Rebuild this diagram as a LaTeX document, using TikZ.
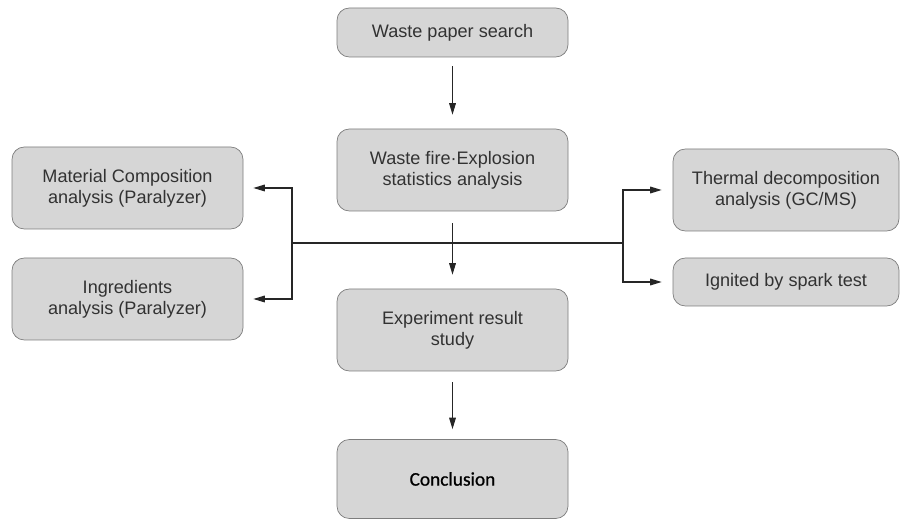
\documentclass[tikz,border=0pt]{standalone}
\usepackage{fontspec}
\setmainfont{Liberation Sans}
\newfontfamily\conclfont[FakeBold=0.8]{Carlito}
\usepackage{xcolor}
\usetikzlibrary{arrows.meta, positioning}

\definecolor{boxfill}{RGB}{214,214,214}
\definecolor{boxline}{RGB}{125,125,125}
\definecolor{boxtext}{RGB}{50,50,50}

\begin{document}
\begin{tikzpicture}[
            font=\fontsize{10.3}{12}\selectfont,
            >={Triangle[length=6.5pt,width=3.8pt]},
            stage/.style  ={draw=boxline, fill=boxfill, rounded corners=7pt, align=center,
                    text=boxtext, inner sep=2pt, minimum width=4.62cm, minimum height=1.64cm},
            flow/.style   ={->, line width=0.6pt, draw=black!85},
            link/.style   ={line width=0.6pt, draw=black!85},
            x=1cm, y=1cm
        ]

        % page frame, same proportions as the original figure
        \useasboundingbox (0,0) rectangle (18.04,-10.4);

        %% --- main column ---
        \node[stage, minimum height=0.98cm] (paper) at (9.05,-0.65) {Waste paper search};
        \node[stage] (stats) at (9.05,-3.4)  {Waste fire·Explosion\\statistics analysis};
        \node[stage] (exper) at (9.05,-6.6)  {Experiment result\\study};
        \node[stage, minimum height=1.58cm, text=black,
              font=\conclfont\fontsize{11}{13}\selectfont] (concl) at (9.05,-9.58) {Conclusion};

        %% --- side analyses (left / right) ---
        \node[stage] (matcomp) at (2.55,-3.76) {Material Composition\\analysis (Paralyzer)};
        \node[stage] (ingred)  at (2.55,-5.98) {Ingredients\\analysis (Paralyzer)};
        \node[stage, minimum width=4.52cm] (thermal) at (15.72,-3.8) {Thermal decomposition\\analysis (GC/MS)};
        \node[stage, minimum width=4.52cm, minimum height=0.96cm] (spark) at (15.72,-5.64) {Ignited by spark test};

        %% --- branch points of the horizontal bar ---
        \coordinate (lfork) at (5.84,-4.86);
        \coordinate (rfork) at (12.46,-4.86);

        %% main flow; arrows stop short of the boxes
        \draw[flow, shorten <=0.18cm, shorten >=0.28cm] (paper) -- (stats);
        \draw[flow, shorten <=0.24cm, shorten >=0.28cm] (stats) -- (exper);
        \draw[flow, shorten <=0.22cm, shorten >=0.2cm]  (exper) -- (concl);

        %% bar and side brackets
        \draw[link] (lfork) -- (rfork);
        \draw[flow, shorten >=0.2cm]  (lfork) |- (matcomp.east);
        \draw[flow, shorten >=0.2cm]  (lfork) |- (ingred.east);
        \draw[flow, shorten >=0.22cm] (rfork) |- (thermal.west);
        \draw[flow, shorten >=0.22cm] (rfork) |- (spark.west);

    \end{tikzpicture}
\end{document}
